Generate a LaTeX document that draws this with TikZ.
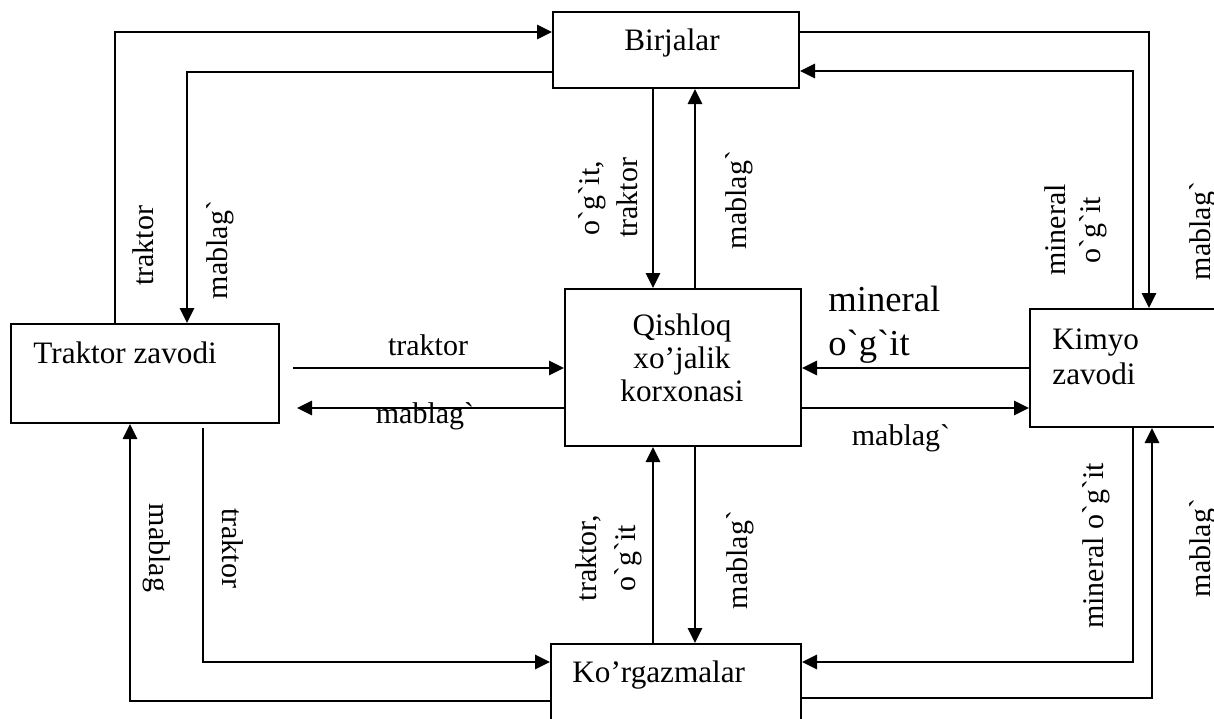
\documentclass[tikz,border=0pt]{standalone}
\usepackage{fontspec}
\setmainfont{Liberation Serif}[Ligatures=TeXOff]
\usetikzlibrary{arrows.meta}
\tikzset{
  box/.style={draw,line width=1pt,inner sep=0pt},
  flow/.style={line width=1.4pt,-{Triangle[length=7.5pt,width=7pt]}},
  txt/.style={font=\fontsize{15.6}{16.5}\selectfont,inner sep=0pt},
  lbl/.style={font=\fontsize{15}{17.5}\selectfont,inner sep=0pt,align=center},
  big/.style={font=\fontsize{18.3}{22}\selectfont,inner sep=0pt,align=left}
}
\begin{document}
\begin{tikzpicture}[x=0.5pt,y=-0.5pt]
\useasboundingbox (0,0) rectangle (1214,718) ;

\node[box,minimum width=123pt,minimum height=38pt] (bj) at (676,50) {} ;
\node[box,minimum width=134pt,minimum height=49.5pt] (tz) at (145,373.5) {} ;
\node[box,minimum width=118pt,minimum height=78.5pt] (qx) at (683,367.5) {} ;
\node[box,minimum width=97.5pt,minimum height=59pt] (ky) at (1127.5,368) {} ;
\node[box,minimum width=125pt,minimum height=43pt] (kg) at (676,687) {} ;

\node[txt] (bjtext) at (672,43) {Birjalar} ;
\node[txt,anchor=west] (tztext) at (33,353) {Traktor zavodi} ;
\node[txt,align=center] (qxtext) at (682,358) {Qishloq\\xo’jalik\\korxonasi} ;
\node[txt,align=left,anchor=west] (kytext) at (1052,357) {Kimyo\\[1pt]zavodi} ;
\node[txt,anchor=west] (kgtext) at (572,675) {Ko’rgazmalar} ;

\coordinate (c1) at (115,32) ;
\coordinate (c2) at (187,72) ;
\coordinate (c3) at (1149,32) ;
\coordinate (c4) at (1133,71) ;
\coordinate (c5) at (653,0) ;
\coordinate (c6) at (695,0) ;
\coordinate (c7) at (293,368) ;
\coordinate (c8) at (297,408) ;
\coordinate (c10) at (203,428) ;
\coordinate (c11) at (203,662) ;
\coordinate (c12) at (130,701) ;
\coordinate (c13) at (1133,662) ;
\coordinate (c14) at (1152,698) ;

\draw[flow] (tz.north -| c1) |- (bj.west |- c1) ;
\draw[flow] (bj.west |- c2) -| (tz.north -| c2) ;
\draw[flow] (bj.east |- c3) -| (ky.north -| c3) ;
\draw[flow] (ky.north -| c4) |- (bj.east |- c4) ;
\draw[flow] (bj.south -| c5) -- (qx.north -| c5) ;
\draw[flow] (qx.north -| c6) -- (bj.south -| c6) ;
\draw[flow] (c7) -- (qx.west |- c7) ;
\draw[flow] (qx.west |- c8) -- (c8) ;
\draw[flow] (ky.west |- c7) -- (qx.east |- c7) ;
\draw[flow] (qx.east |- c8) -- (ky.west |- c8) ;
\draw[flow] (kg.north -| c5) -- (qx.south -| c5) ;
\draw[flow] (qx.south -| c6) -- (kg.north -| c6) ;
\draw[flow] (c10) -- (c11) -- (kg.west |- c11) ;
\draw[flow] (kg.west |- c12) -| (tz.south -| c12) ;
\draw[flow] (ky.south -| c13) |- (kg.east |- c13) ;
\draw[flow] (kg.east |- c14) -| (ky.south -| c14) ;

\node[lbl,rotate=90] (l1) at (143,246) {traktor} ;
\node[lbl,rotate=90] (l2) at (220,250) {mablag`} ;
\node[lbl,rotate=90] (l3) at (608,198) {o`g`it,\\[1.5pt]traktor} ;
\node[lbl,rotate=90] (l4) at (739,200) {mablag`} ;
\node[lbl,rotate=90] (l5) at (1076,230) {mineral\\o`g`it} ;
\node[lbl,rotate=90] (l6) at (1203,231) {mablag`} ;
\node[lbl] (l7) at (428,345) {traktor} ;
\node[lbl] (l8) at (425,416) {mablag`} ;
\node[big,anchor=west] (l9) at (828,325) {mineral\\o`g`it} ;
\node[lbl] (l10) at (901,438) {mablag`} ;
\node[lbl,rotate=-90] (l11) at (157,548) {mablag} ;
\node[lbl,rotate=-90] (l12) at (233,548) {traktor} ;
\node[lbl,rotate=90] (l13) at (609,558) {traktor,\\[2pt]o`g`it} ;
\node[lbl,rotate=90] (l14) at (740,560) {mablag`} ;
\node[lbl,rotate=90] (l15) at (1096,546) {mineral o`g`it} ;
\node[lbl,rotate=90] (l16) at (1203,548) {mablag`} ;
\end{tikzpicture}
\end{document}
